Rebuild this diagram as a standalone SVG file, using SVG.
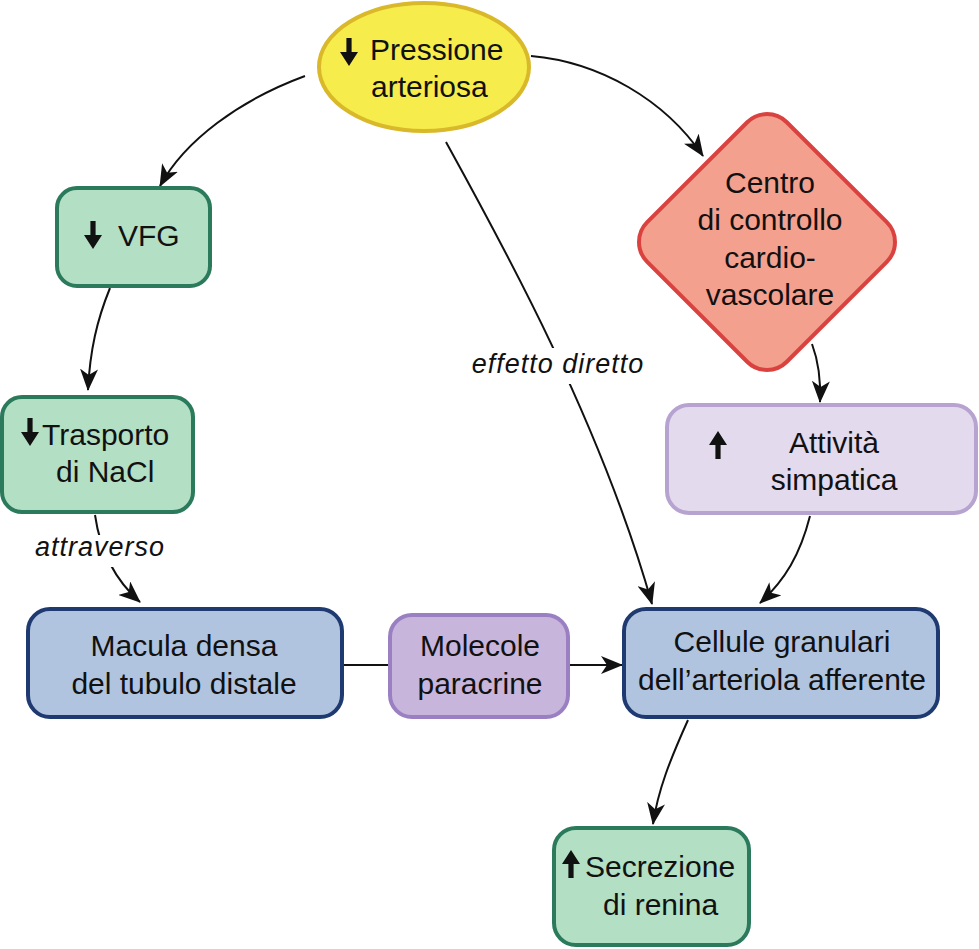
<svg xmlns="http://www.w3.org/2000/svg" width="979" height="949" viewBox="0 0 979 949">
<style>
.t{font-family:"Liberation Sans",Arial,sans-serif;font-size:30px;fill:#111}
.c{text-anchor:middle}
.lbl{font-family:"Liberation Sans",Arial,sans-serif;font-size:27px;font-style:italic;letter-spacing:1px;fill:#111;text-anchor:middle}
.con{fill:none;stroke:#111;stroke-width:2}
.green{fill:#b3dfc4;stroke:#2b7a5b;stroke-width:4}
.blue{fill:#b0c4e0;stroke:#1e3a70;stroke-width:4}
.purple{fill:#c7b5dc;stroke:#9a80c2;stroke-width:4}
.lilac{fill:#e3daee;stroke:#b7a3d0;stroke-width:4}
.glyph{fill:#111}
</style>
<defs>
<marker id="ah" markerUnits="userSpaceOnUse" markerWidth="22" markerHeight="18" viewBox="0 0 22 18" refX="21" refY="9" orient="auto">
<path d="M0,0 L22,9 L0,18 L6,9 Z" fill="#111"/>
</marker>
<path id="down" d="M-2.6,-14 H2.6 V0 H9 L0,14 L-9,0 H-2.6 Z"/>
<path id="up" d="M-2.6,14 H2.6 V0 H9 L0,-14 L-9,0 H-2.6 Z"/>
</defs>
<rect width="979" height="949" fill="#fff"/>

<g id="connectors">
<path class="con" d="M305,76 C240,100 185,140 160,186" marker-end="url(#ah)"/>
<path class="con" d="M531,56 C600,62 665,100 703,156" marker-end="url(#ah)"/>
<path class="con" d="M446,142 C500,240 600,420 652,604" marker-end="url(#ah)"/>
<rect x="464" y="348" width="190" height="36" fill="#fff"/>
<text class="lbl" x="558" y="373">effetto diretto</text>
<path class="con" d="M110,288 C97,320 90,350 88,390" marker-end="url(#ah)"/>
<path class="con" d="M95,515 C100,550 115,580 140,602" marker-end="url(#ah)"/>
<rect x="30" y="535" width="140" height="32" fill="#fff"/>
<text class="lbl" x="100" y="556">attraverso</text>
<path class="con" d="M342,665 H390"/>
<path class="con" d="M568,665 H622" marker-end="url(#ah)"/>
<path class="con" d="M812,344 C818,360 821,378 820,402" marker-end="url(#ah)"/>
<path class="con" d="M810,516 C800,555 785,580 760,603" marker-end="url(#ah)"/>
<path class="con" d="M688,720 C670,760 658,790 653,824" marker-end="url(#ah)"/>
</g>

<g id="pressione">
<ellipse cx="424" cy="67" rx="105" ry="64" fill="#f6ec4c" stroke="#d9b92a" stroke-width="4"/>
<use href="#down" class="glyph" x="349" y="52"/>
<text class="t" x="370" y="60">Pressione</text>
<text class="t" x="371" y="97">arteriosa</text>
</g>

<g id="vfg">
<rect class="green" x="57" y="188" width="153" height="98" rx="20"/>
<use href="#down" class="glyph" x="93" y="235"/>
<text class="t" x="118" y="246">VFG</text>
</g>

<g id="trasporto">
<rect class="green" x="2" y="397" width="191" height="115" rx="20"/>
<use href="#down" class="glyph" x="30" y="432"/>
<text class="t" x="42" y="445">Trasporto</text>
<text class="t" x="56" y="482">di NaCl</text>
</g>

<g id="centro">
<rect x="-98.7" y="-98.7" width="197.4" height="197.4" rx="28" fill="#f4a08f" stroke="#d9423f" stroke-width="4" transform="translate(767,242) rotate(45)"/>
<text class="t c" x="770" y="193">Centro</text>
<text class="t c" x="770" y="230">di controllo</text>
<text class="t c" x="770" y="268">cardio-</text>
<text class="t c" x="770" y="305">vascolare</text>
</g>

<g id="attivita">
<rect class="lilac" x="667" y="405" width="309" height="108" rx="22"/>
<use href="#up" class="glyph" x="718" y="445"/>
<text class="t c" x="834" y="453">Attività</text>
<text class="t c" x="834" y="490">simpatica</text>
</g>

<g id="macula">
<rect class="blue" x="28" y="609" width="314" height="108" rx="22"/>
<text class="t c" x="184" y="656">Macula densa</text>
<text class="t c" x="184" y="694">del tubulo distale</text>
</g>

<g id="molecole">
<rect class="purple" x="390" y="615" width="178" height="102" rx="22"/>
<text class="t c" x="480" y="656">Molecole</text>
<text class="t c" x="480" y="694">paracrine</text>
</g>

<g id="cellule">
<rect class="blue" x="624" y="609" width="314" height="108" rx="22"/>
<text class="t c" x="782" y="652">Cellule granulari</text>
<text class="t c" x="782" y="690">dell’arteriola afferente</text>
</g>

<g id="secrezione">
<rect class="green" x="554" y="828" width="195" height="117" rx="22"/>
<use href="#up" class="glyph" x="571" y="864"/>
<text class="t" x="585" y="877">Secrezione</text>
<text class="t" x="603" y="915">di renina</text>
</g>
</svg>
